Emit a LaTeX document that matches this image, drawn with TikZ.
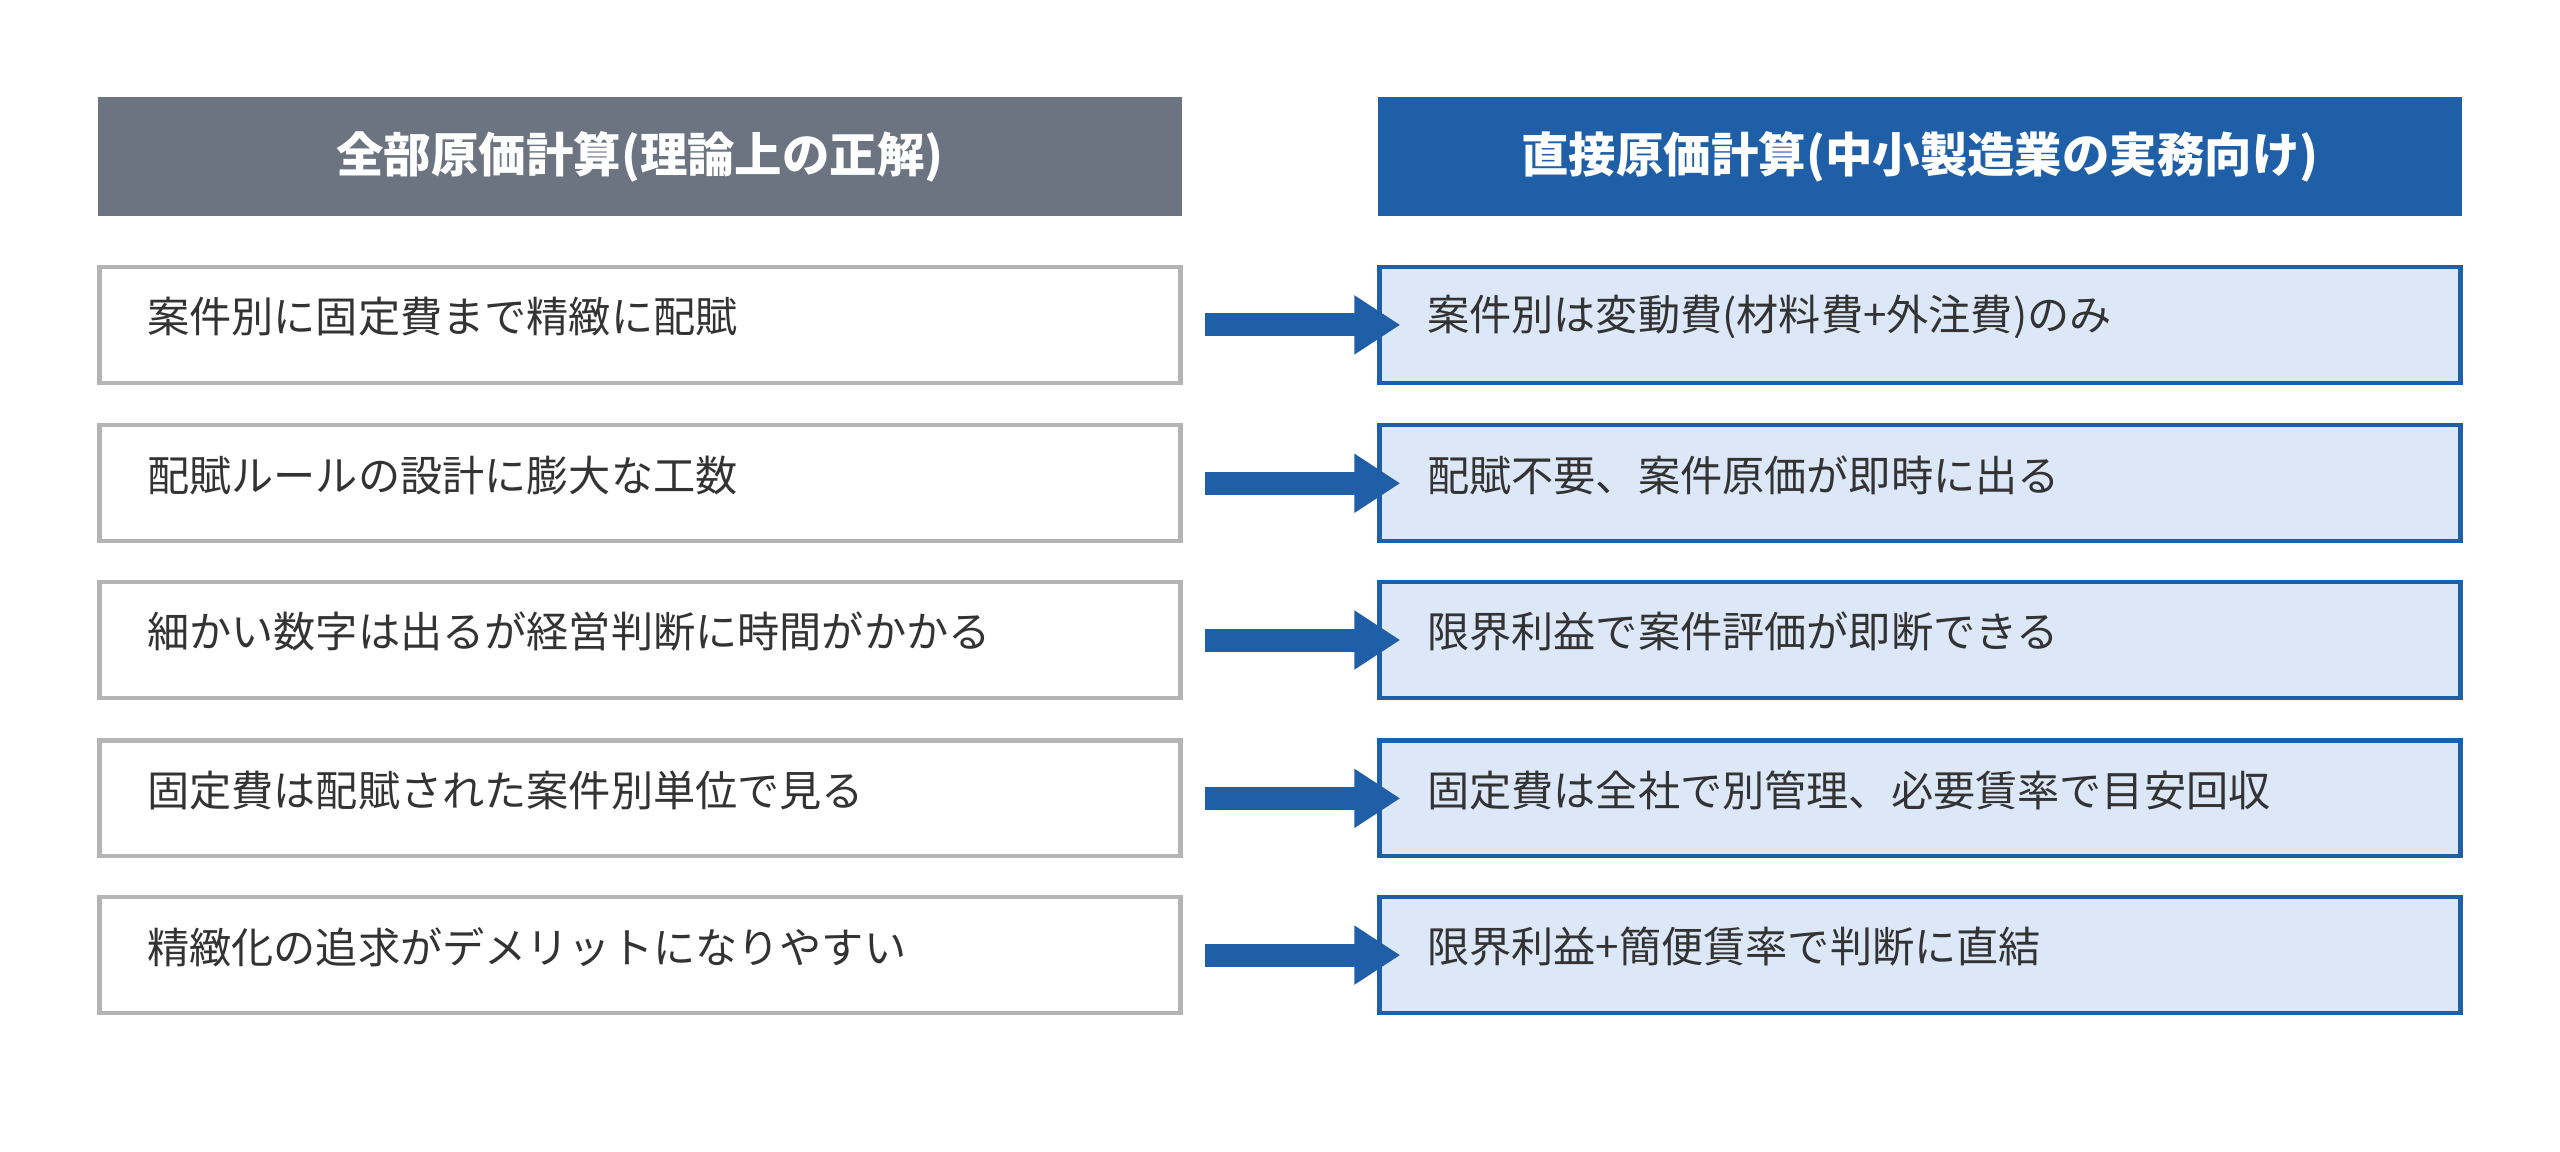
\documentclass[tikz,border=0pt]{standalone}
\usepackage{fontspec}
\setmainfont{Noto Sans CJK JP}
\usetikzlibrary{arrows.meta, positioning, calc}
\definecolor{headgray}{HTML}{6B7480}
\definecolor{headblue}{HTML}{1F5FA8}
\definecolor{cellblue}{HTML}{DCE8F8}
\definecolor{linegray}{HTML}{B4B4B4}
\definecolor{textdark}{HTML}{333333}
\begin{document}
\begin{tikzpicture}[
  x=0.01633cm, y=-0.01633cm,
  head/.style={minimum width=664*0.01633cm, minimum height=73*0.01633cm, inner sep=0pt, text=white, font=\bfseries\fontsize{13.5pt}{15pt}\selectfont},
  oldcell/.style={draw=linegray, line width=1.2pt, fill=white, minimum width=662*0.01633cm, minimum height=71*0.01633cm, inner sep=0pt},
  newcell/.style={draw=headblue, line width=1.2pt, fill=cellblue, minimum width=662*0.01633cm, minimum height=71*0.01633cm, inner sep=0pt},
  celltext/.style={anchor=west, text=textdark, font=\fontsize{12pt}{14pt}\selectfont, inner sep=0pt},
  toarrow/.style={-{Triangle[width=0.56cm,length=0.46cm]}, headblue, line width=0.23cm}
]
\useasboundingbox (0,0) rectangle (1568,705);

%headers
\node[head, fill=headgray] (hL) at (392,96) {全部原価計算(理論上の正解)};
\node[head, fill=headblue] (hR) at (1176,96) {直接原価計算(中小製造業の実務向け)};

%rows
\foreach \i/\y/\lt/\rt in {
  1/199/案件別に固定費まで精緻に配賦/案件別は変動費(材料費+外注費)のみ,
  2/296/配賦ルールの設計に膨大な工数/配賦不要、案件原価が即時に出る,
  3/392/細かい数字は出るが経営判断に時間がかかる/限界利益で案件評価が即断できる,
  4/489/固定費は配賦された案件別単位で見る/固定費は全社で別管理、必要賃率で目安回収,
  5/585/精緻化の追求がデメリットになりやすい/限界利益+簡便賃率で判断に直結}{
  \node[oldcell] (L\i) at (392,\y) {};
  \node[newcell] (R\i) at (1176,\y) {};
  \node[celltext] at ($(L\i.west)+(30,-5)$) {\lt};
  \node[celltext] at ($(R\i.west)+(30,-5)$) {\rt};
  \coordinate (a\i) at ($(L\i.east)+(14,0)$);
  \coordinate (b\i) at ($(R\i.west)+(14,0)$);
  \draw[toarrow] (a\i) -- (b\i);
}
\end{tikzpicture}
\end{document}
